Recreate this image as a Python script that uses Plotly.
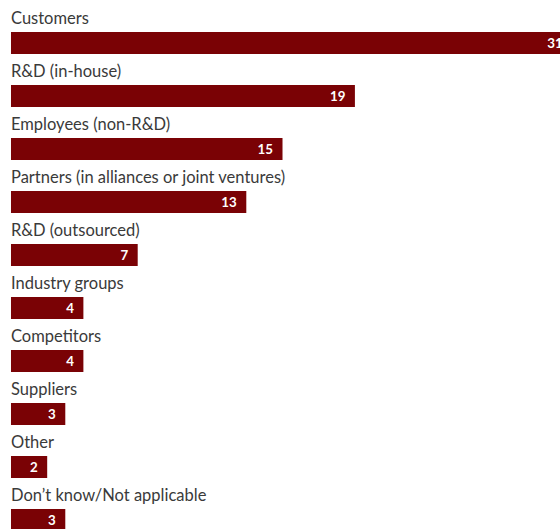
import plotly.graph_objects as go

# Sources of innovation ideas (share of respondents, %)
categories = [
    "Customers",
    "R&D (in-house)",
    "Employees (non-R&D)",
    "Partners (in alliances or joint ventures)",
    "R&D (outsourced)",
    "Industry groups",
    "Competitors",
    "Suppliers",
    "Other",
    "Don\u2019t know/Not applicable",
]
values = [31, 19, 15, 13, 7, 4, 4, 3, 2, 3]

BAR_COLOR = "#7a0205"
LABEL_COLOR = "#3a3a3a"
FONT = "Lato"

fig = go.Figure(
    go.Bar(
        x=values,
        y=categories,
        orientation="h",
        width=0.415,
        marker=dict(color=BAR_COLOR, line=dict(width=0)),
        text=[f"{v}\u00a0\u00a0" for v in values],
        textposition="inside",
        insidetextanchor="end",
        textangle=0,
        textfont=dict(family=FONT, size=15, color="white", weight="bold"),
        cliponaxis=True,
        hoverinfo="skip",
    )
)

# Category names sit just above each bar
for cat in categories:
    fig.add_annotation(
        x=0,
        y=cat,
        xref="x",
        yref="y",
        text=cat,
        showarrow=False,
        xanchor="left",
        yanchor="middle",
        xshift=-2,
        yshift=25,
        font=dict(family=FONT, size=16.5, color=LABEL_COLOR),
    )

fig.update_layout(
    width=560,
    height=529,
    margin=dict(l=0, r=0, t=0, b=0),
    paper_bgcolor="white",
    plot_bgcolor="white",
    showlegend=False,
    xaxis=dict(
        range=[-0.607, 30.33],
        visible=False,
        fixedrange=True,
    ),
    yaxis=dict(
        type="category",
        categoryorder="array",
        categoryarray=categories,
        range=[9.17, -0.811],
        visible=False,
        fixedrange=True,
    ),
)

fig.write_html("out.html")
